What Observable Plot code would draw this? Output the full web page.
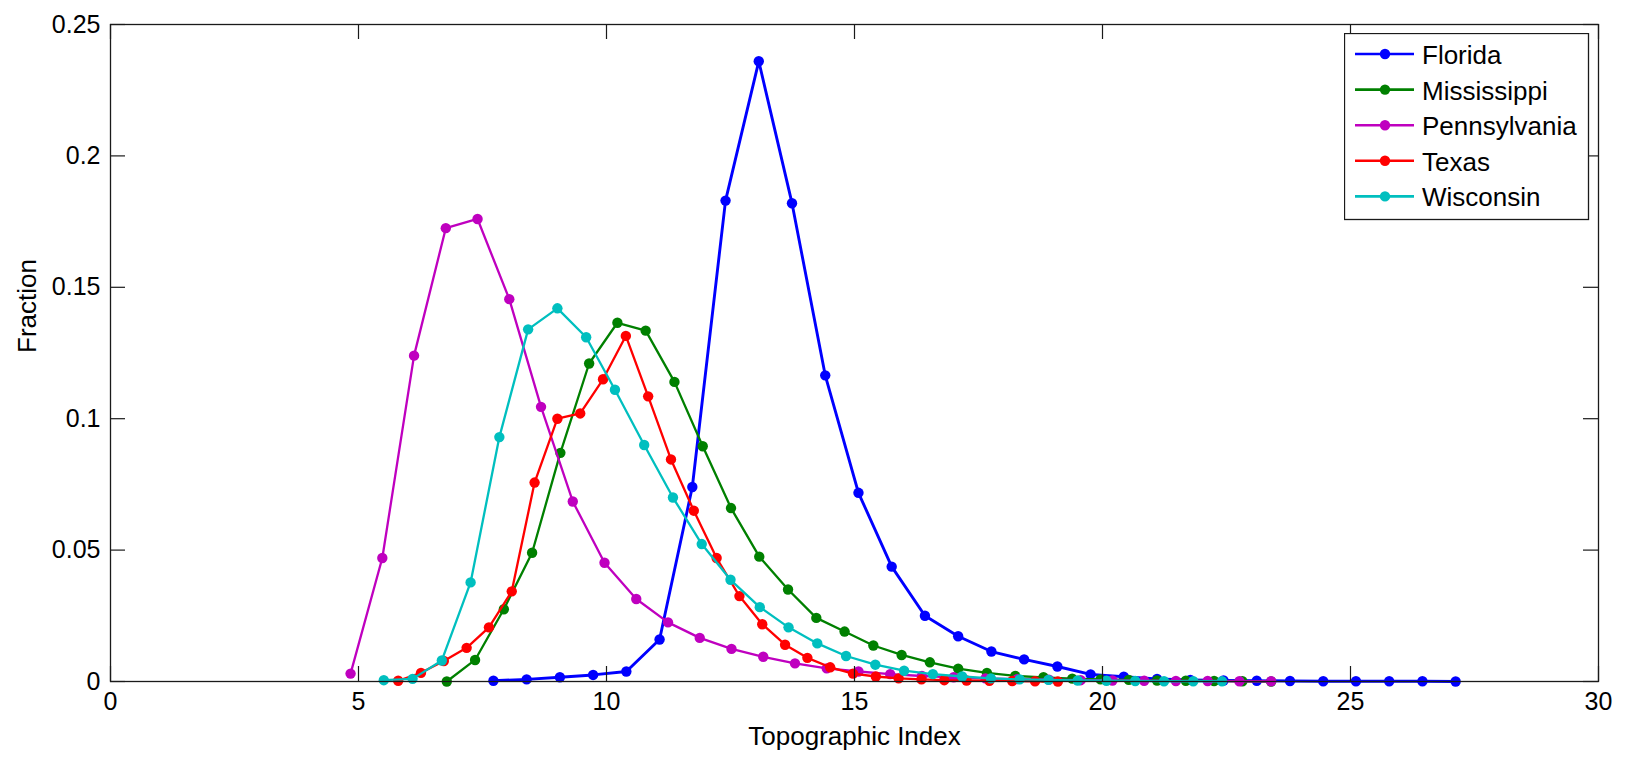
<!DOCTYPE html>
<html>
<head>
<meta charset="utf-8">
<script src="https://cdn.jsdelivr.net/npm/d3@7"></script>
<script src="https://cdn.jsdelivr.net/npm/@observablehq/plot@0.6"></script>
<style>
  body { margin: 0; background: #fff; }
  #wrap { position: relative; width: 1625px; height: 759px; overflow: hidden; }
  #wrap svg { display: block; }
  #legend { position: absolute; left: 1344px; top: 33px; }
</style>
</head>
<body>
<div id="wrap"></div>
<script>
// ---------- data ----------
const states = ["Florida", "Mississippi", "Pennsylvania", "Texas", "Wisconsin"];
const colors = ["#0000FF", "#008000", "#BF00BF", "#FF0000", "#00BFBF"];

const floridaX = [7.72, 8.39, 9.06, 9.73, 10.40, 11.07, 11.73, 12.40, 13.07, 13.74, 14.41, 15.08, 15.75, 16.42, 17.09, 17.76, 18.42, 19.09, 19.76, 20.43, 21.10, 21.77, 22.44, 23.11, 23.78, 24.45, 25.11, 25.78, 26.45, 27.12];
const floridaY = [0.0003, 0.0008, 0.0016, 0.0025, 0.0038, 0.016, 0.074, 0.183, 0.236, 0.182, 0.1165, 0.0718, 0.0437, 0.025, 0.0172, 0.0114, 0.0084, 0.0057, 0.0027, 0.0018, 0.001, 0.0006, 0.0004, 0.0003, 0.0002, 0.0001, 0.0001, 0.0001, 0.0001, 0.0];

const mississippiX = [6.78, 7.35, 7.93, 8.50, 9.07, 9.65, 10.22, 10.79, 11.37, 11.94, 12.51, 13.08, 13.66, 14.23, 14.80, 15.38, 15.95, 16.52, 17.09, 17.67, 18.24, 18.81, 19.39, 19.96, 20.53, 21.10, 21.68, 22.25, 22.82, 23.40];
const mississippiY = [0.0, 0.0082, 0.0275, 0.049, 0.087, 0.121, 0.1365, 0.1335, 0.114, 0.0895, 0.066, 0.0475, 0.035, 0.0242, 0.019, 0.0137, 0.0101, 0.0073, 0.0049, 0.0033, 0.0021, 0.0016, 0.0011, 0.0008, 0.0006, 0.0004, 0.0003, 0.0002, 0.0001, 0.0];

const pennsylvaniaX = [4.84, 5.48, 6.12, 6.76, 7.40, 8.04, 8.68, 9.32, 9.96, 10.60, 11.24, 11.88, 12.52, 13.16, 13.80, 14.44, 15.08, 15.72, 16.36, 17.00, 17.64, 18.28, 18.92, 19.56, 20.20, 20.84, 21.48, 22.12, 22.76, 23.40];
const pennsylvaniaY = [0.003, 0.047, 0.124, 0.1725, 0.176, 0.1455, 0.1045, 0.0685, 0.0452, 0.0314, 0.0225, 0.0166, 0.0124, 0.0094, 0.0069, 0.005, 0.0038, 0.0028, 0.0021, 0.0016, 0.0012, 0.0009, 0.0007, 0.0005, 0.0004, 0.0003, 0.0002, 0.0002, 0.0001, 0.0001];

const texasX = [5.80, 6.26, 6.72, 7.18, 7.63, 8.09, 8.55, 9.01, 9.47, 9.93, 10.39, 10.84, 11.30, 11.76, 12.22, 12.68, 13.14, 13.60, 14.05, 14.51, 14.97, 15.43, 15.89, 16.35, 16.81, 17.26, 17.72, 18.18, 18.64, 19.10];
const texasY = [0.0003, 0.0033, 0.0078, 0.0128, 0.0206, 0.0343, 0.0757, 0.100, 0.102, 0.115, 0.1315, 0.1085, 0.0845, 0.065, 0.047, 0.0325, 0.0218, 0.014, 0.009, 0.0054, 0.003, 0.0019, 0.0012, 0.0008, 0.0005, 0.0004, 0.0003, 0.0002, 0.0001, 0.0];

const wisconsinX = [5.51, 6.09, 6.68, 7.26, 7.84, 8.42, 9.01, 9.59, 10.17, 10.76, 11.34, 11.92, 12.50, 13.09, 13.67, 14.25, 14.83, 15.42, 16.00, 16.58, 17.17, 17.75, 18.33, 18.91, 19.50, 20.08, 20.66, 21.24, 21.83, 22.41];
const wisconsinY = [0.0005, 0.001, 0.008, 0.0377, 0.093, 0.134, 0.142, 0.131, 0.111, 0.090, 0.070, 0.0523, 0.0387, 0.0283, 0.0206, 0.0145, 0.0097, 0.0064, 0.0041, 0.0028, 0.0019, 0.0012, 0.0008, 0.0006, 0.0004, 0.0003, 0.0002, 0.0001, 0.0001, 0.0001];

const xTicks = [0, 5, 10, 15, 20, 25, 30];
const yTicks = [0, 0.05, 0.1, 0.15, 0.2, 0.25];
const xLabel = "Topographic Index";
const yLabel = "Fraction";

// ---------- build ----------
const seriesX = [floridaX, mississippiX, pennsylvaniaX, texasX, wisconsinX];
const seriesY = [floridaY, mississippiY, pennsylvaniaY, texasY, wisconsinY];
const series = states.map((s, i) => seriesX[i].map((x, j) => ({state: s, x, y: seriesY[i][j]})));

const W = 1625, H = 759;
const mL = 110, mR = 27, mT = 24, mB = 78;
const FW = W - mL - mR, FH = H - mT - mB;
const TICK = 15;
const font = "'Liberation Sans', Arial, Helvetica, sans-serif";
const ink = "#1a1a1a";
const DOT_R = 5.2;

const marks = [];
series.forEach((rows, i) => {
  marks.push(Plot.line(rows, {x: "x", y: "y", stroke: colors[i], strokeWidth: i === 0 ? 2.9 : 2.3}));
  marks.push(Plot.dot(rows, {x: "x", y: "y", fill: colors[i], r: DOT_R, stroke: "none"}));
});

const chart = Plot.plot({
  width: W, height: H,
  marginLeft: mL, marginRight: mR, marginTop: mT, marginBottom: mB,
  style: {fontFamily: font, background: "#fff", color: "#000"},
  x: {domain: [0, 30]},
  y: {domain: [0, 0.25]},
  marks: [
    ...marks,
    Plot.frame({stroke: ink, strokeWidth: 1.3}),
    Plot.tickX(xTicks, {x: d => d, insetTop: FH - TICK, stroke: ink, strokeWidth: 1.2}),
    Plot.tickX(xTicks, {x: d => d, insetBottom: FH - TICK, stroke: ink, strokeWidth: 1.2}),
    Plot.tickY(yTicks, {y: d => d, insetRight: FW - TICK, stroke: ink, strokeWidth: 1.2}),
    Plot.tickY(yTicks, {y: d => d, insetLeft: FW - TICK, stroke: ink, strokeWidth: 1.2}),
    Plot.axisX({ticks: xTicks, tickSize: 0, tickPadding: 11, fontSize: 25, label: null, tickFormat: d => String(d)}),
    Plot.axisY({ticks: yTicks, tickSize: 0, tickPadding: 10, fontSize: 25, label: null, tickFormat: d => String(d)}),
    Plot.text([xLabel], {text: d => d, frameAnchor: "bottom", lineAnchor: "bottom", dy: 63, fontSize: 26, fill: "#000"}),
    Plot.text([yLabel], {text: d => d, frameAnchor: "left", lineAnchor: "bottom", dx: -75, rotate: -90, fontSize: 26, fill: "#000"})
  ]
});

const wrap = document.getElementById("wrap");
wrap.appendChild(chart);

// ---------- legend (inside the axes, top-right) ----------
const LW = 244, LH = 186, rowBase = 31, rowStep = 35.6;
const leg = d3.create("svg").attr("id", "legend").attr("width", LW + 2).attr("height", LH + 2)
  .style("font-family", font);
leg.append("rect").attr("x", 0.5).attr("y", 0.5).attr("width", LW).attr("height", LH)
  .attr("fill", "#fff").attr("stroke", ink).attr("stroke-width", 1.3);
states.forEach((s, i) => {
  const base = rowBase + i * rowStep;
  const cy = base - 10;
  const g = leg.append("g");
  g.append("line").attr("x1", 11).attr("x2", 70).attr("y1", cy).attr("y2", cy)
    .attr("stroke", colors[i]).attr("stroke-width", 2.6);
  g.append("circle").attr("cx", 41).attr("cy", cy).attr("r", DOT_R).attr("fill", colors[i]);
  g.append("text").attr("x", 78).attr("y", base).attr("font-size", 26).attr("fill", "#000").text(s);
});
wrap.appendChild(leg.node());
</script>
</body>
</html>
